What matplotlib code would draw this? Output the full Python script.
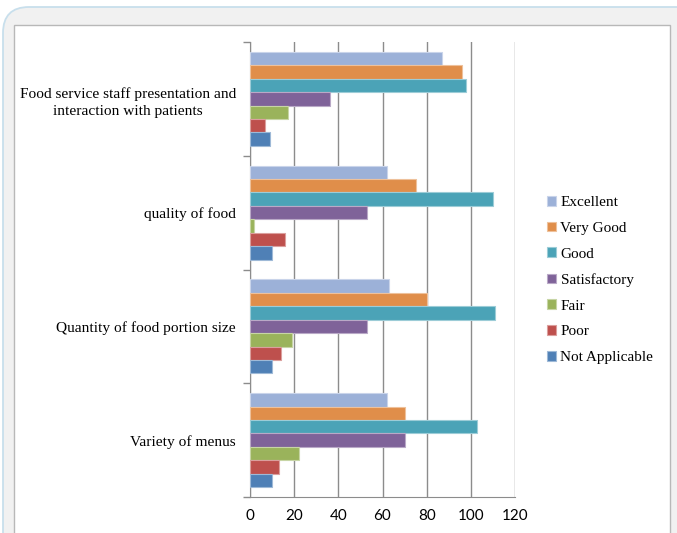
import matplotlib
matplotlib.use("Agg")
import matplotlib.pyplot as plt
from matplotlib.patches import FancyBboxPatch, Rectangle
from matplotlib.colors import to_rgb
import numpy as np

# data, bottom category first
categories = ["Variety of menus",
              "Quantity of food portion size",
              "quality of food",
              "Food service staff presentation and\ninteraction with patients"]
series = ["Excellent", "Very Good", "Good", "Satisfactory", "Fair", "Poor", "Not Applicable"]
excellent = [62, 63, 62, 87]
very_good = [70, 80, 75, 96]
good = [103, 111, 110, 98]
satisfactory = [70, 53, 53, 36]
fair = [22, 19, 2, 17]
poor = [13, 14, 16, 7]
not_applicable = [10, 10, 10, 9]
values = [excellent, very_good, good, satisfactory, fair, poor, not_applicable]
colors = ["#9cb1d8", "#e08e4a", "#4ba3b7", "#7f6399", "#9ab35b", "#be504d", "#4f80b6"]

W, H = 677, 533
fig = plt.figure(figsize=(W / 100, H / 100), dpi=100)
fig.patch.set_facecolor("white")

# background frame (pixel coords)
bg = fig.add_axes([0, 0, 1, 1], zorder=0)
bg.set_xlim(0, W)
bg.set_ylim(H, 0)
bg.axis("off")
bg.add_patch(FancyBboxPatch((3, 7), 700, 600, boxstyle="round,pad=0,rounding_size=26",
                            fc="#f1f1f1", ec="#c8dfec", lw=1.3))
bg.add_patch(Rectangle((14, 25), 656, 560, fc="white", ec="#b8b8b8", lw=1.0))

ax = fig.add_axes([250 / W, 1 - 497 / H, 265 / W, 455 / H], zorder=1)
ax.patch.set_alpha(0)

h = 0.118
y = np.arange(len(categories))
for i, (name, vals, c) in enumerate(zip(series, values, colors)):
    edge = tuple(0.55 * np.array(to_rgb(c)) + 0.45)
    ax.barh(y + (3 - i) * h, vals, height=h, color=c, edgecolor=edge, lw=0.8,
            label=name, zorder=3)

ax.set_xlim(0, 120)
ax.set_ylim(-0.5, 3.5)
ax.set_xticks(range(0, 121, 20))
ax.set_yticks(y)
ax.set_yticklabels(categories, family="Liberation Serif", fontsize=11.1)
for lab in ax.get_yticklabels():
    lab.set_multialignment("center")
    lab.set_linespacing(1.45)
ax.set_yticks(np.arange(-0.5, 3.6, 1), minor=True)
ax.tick_params(axis="y", which="major", length=0, pad=10)
ax.tick_params(axis="y", which="minor", length=5, color="#8c8c8c", width=1)
ax.tick_params(axis="x", length=0, pad=9)
for lab in ax.get_xticklabels():
    lab.set_family("Lato")
    lab.set_fontsize(11)

ax.grid(axis="x", color="#8c8c8c", lw=1, zorder=0)
for s in ["top", "right"]:
    ax.spines[s].set_visible(False)
for s in ["left", "bottom"]:
    ax.spines[s].set_color("#8c8c8c")

fig.legend(loc="center left", bbox_to_anchor=(533 / W, 1 - 280 / H), frameon=False,
           prop={"family": "Liberation Serif", "size": 11.0},
           handlelength=0.6, handleheight=0.6, handletextpad=0.3, labelspacing=0.82)

fig.savefig("out.png", dpi=100)
